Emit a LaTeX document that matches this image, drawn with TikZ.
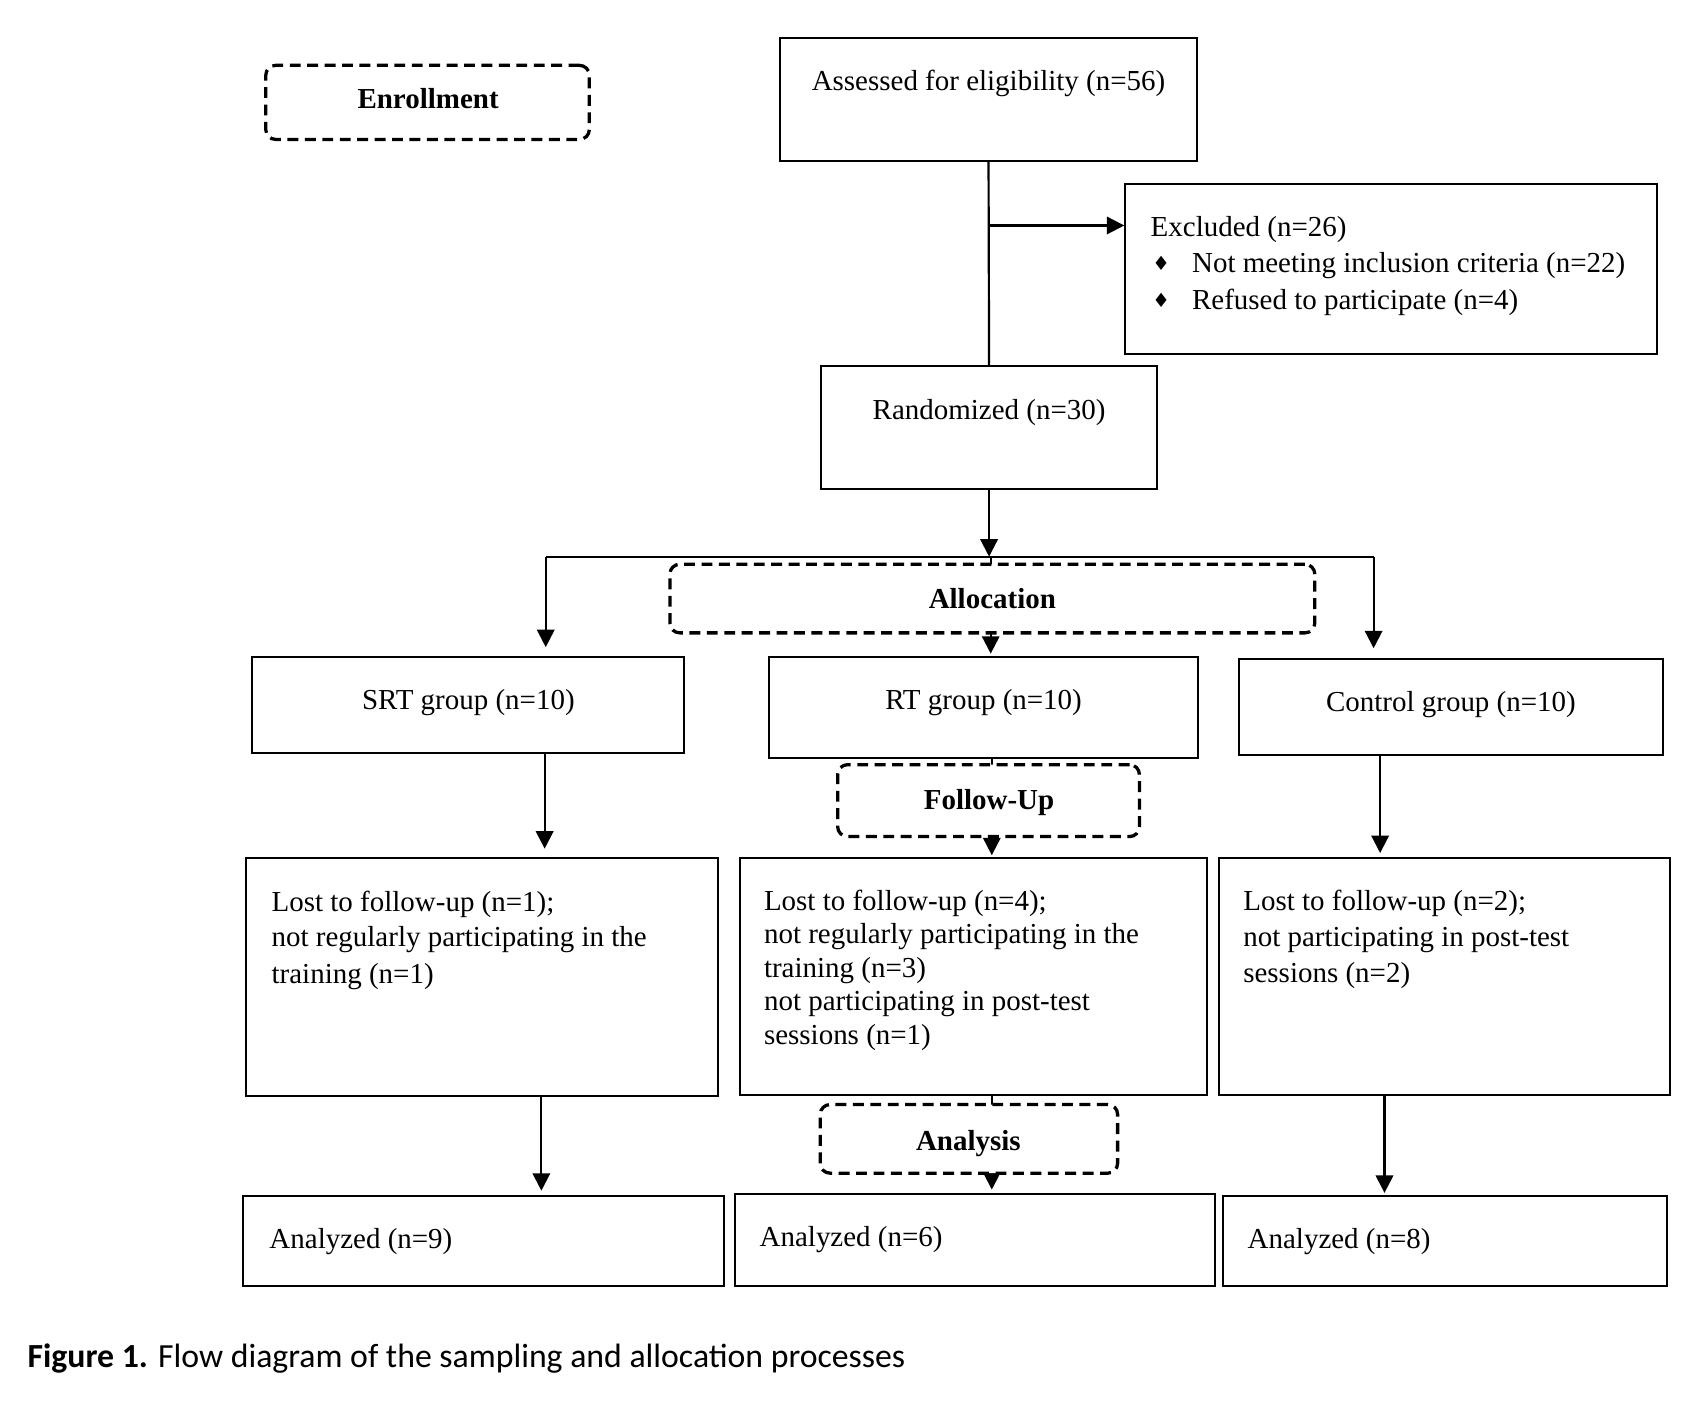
\documentclass[tikz,border=0pt]{standalone}
\usepackage{fontspec}
\setmainfont{Liberation Serif}
\newfontfamily\capfont{Carlito}
\newfontfamily\symfont{DejaVu Sans}
\usetikzlibrary{arrows.meta,fit}
\begin{document}
\begin{tikzpicture}[x=0.5pt,y=-0.5pt,
  box/.style={draw,line width=0.9pt,inner sep=0pt},
  phase/.style={draw,line width=1.5pt,dash pattern=on 5pt off 3pt,rounded corners=4.5pt,fill=white,inner sep=0pt},
  arr/.style={line width=1pt,-{Triangle[length=8pt,width=8pt]}},
  ln/.style={line width=1pt},
  txt/.style={inner sep=0pt,font=\fontsize{13.3}{16}\selectfont},
  lbl/.style={inner sep=0pt,font=\fontsize{13.3}{16}\selectfont\bfseries},
  bul/.style={inner sep=0pt,font=\symfont\fontsize{9}{9}\selectfont},
  captext/.style={inner sep=0pt,font=\capfont\fontsize{15.5}{18}\selectfont}
]
\fill[white] (0,0) rectangle (1568,1294);
\useasboundingbox (0,0) rectangle (1568,1294);

% solid boxes
\node[box,fit={(716,35)(1099,148)}] (assess) {};
\node[box,fit={(1033,169)(1521,325)}] (excl) {};
\node[box,fit={(754,336)(1062,449)}] (rand) {};
\node[box,fit={(231,603)(628,691)}] (srt) {};
\node[box,fit={(706,603)(1100,696)}] (rt) {};
\node[box,fit={(1137,605)(1527,693)}] (ctrl) {};
\node[box,fit={(226,788)(659,1006)}] (srtlost) {};
\node[box,fit={(679,788)(1108,1005)}] (rtlost) {};
\node[box,fit={(1119,788)(1533,1005)}] (ctrllost) {};
\node[box,fit={(223,1098)(665,1181)}] (srtan) {};
\node[box,fit={(675,1096)(1115,1181)}] (rtan) {};
\node[box,fit={(1123,1098)(1530,1181)}] (ctrlan) {};

% connectors
\draw[ln] (assess.south) -- (rand.north);
\coordinate (exj) at (907.5,207);
\draw[arr] (exj) -- (exj -| excl.west);
\coordinate (split) at (909.5,511);
\coordinate (sl) at (501,511);
\coordinate (sr) at (1261,511);
\draw[arr] (rand.south) -- (rand.south |- split);
\draw[ln] (sl) -- (sr);
\draw[arr,shorten >=4pt] (sl) -- (sl |- srt.north);
\draw[arr,shorten >=4.5pt] (sr) -- (sr |- ctrl.north);
\draw[arr,shorten >=1pt] (split) -- (split |- rt.north);

\coordinate (k1) at (500,0);
\coordinate (k2) at (910.5,0);
\coordinate (k3) at (1267,0);
\coordinate (k4) at (497,0);
\coordinate (k6) at (1271,0);
\draw[arr,shorten >=4pt] (srt.south -| k1) -- (srtlost.north -| k1);
\draw[arr,shorten >=1pt] (rt.south -| k2) -- (rtlost.north -| k2);
\draw[arr,shorten >=2pt] (ctrl.south -| k3) -- (ctrllost.north -| k3);
\draw[arr,shorten >=2pt] (srtlost.south -| k4) -- (srtan.north -| k4);
\draw[arr,shorten >=1.5pt] (rtlost.south -| k2) -- (rtan.north -| k2);
\draw[arr,shorten >=1pt] (ctrllost.south -| k6) -- (ctrlan.north -| k6);

% phase boxes
\node[phase,fit={(244,60)(541,128)}] (enroll) {};
\node[phase,fit={(615,518)(1207,581)}] (alloc) {};
\node[phase,fit={(769,702)(1046,768)}] (follow) {};
\node[phase,fit={(753,1014)(1026,1077)}] (analysis) {};

\node[lbl,anchor=base] (enrollT) at (393,100) {Enrollment};
\node[lbl,anchor=base] (allocT) at (911,559) {Allocation};
\node[lbl,anchor=base] (followT) at (908,743) {Follow-Up};
\node[lbl,anchor=base] (analysisT) at (889,1056) {Analysis};

% texts
\node[txt,anchor=base] (assessT) at (907.5,83) {Assessed for eligibility (n=56)};
\node[txt,anchor=base west] (exclT) at (1056,217) {Excluded (n=26)};
\node[bul,anchor=base] (b1) at (1066,248) {♦};
\node[txt,anchor=base west] (e1) at (1094,250) {Not meeting inclusion criteria (n=22)};
\node[bul,anchor=base] (b2) at (1066,282) {♦};
\node[txt,anchor=base west] (e2) at (1094,284) {Refused to participate (n=4)};
\node[txt,anchor=base] (randT) at (908,385) {Randomized (n=30)};

\node[txt,anchor=base] (srtT) at (430,651) {SRT group (n=10)};
\node[txt,anchor=base] (rtT) at (903,651) {RT group (n=10)};
\node[txt,anchor=base] (ctrlT) at (1332,653) {Control group (n=10)};

\node[txt,anchor=base west] (sl1) at (249,837) {Lost to follow-up (n=1);};
\node[txt,anchor=base west] (sl2) at (249,869) {not regularly participating in the};
\node[txt,anchor=base west] (sl3) at (249,903) {training (n=1)};

\node[txt,anchor=base west] (rl1) at (701,836) {Lost to follow-up (n=4);};
\node[txt,anchor=base west] (rl2) at (701,866) {not regularly participating in the};
\node[txt,anchor=base west] (rl3) at (701,897) {training (n=3)};
\node[txt,anchor=base west] (rl4) at (701,928) {not participating in post-test};
\node[txt,anchor=base west] (rl5) at (701,959) {sessions (n=1)};

\node[txt,anchor=base west] (cl1) at (1141,836) {Lost to follow-up (n=2);};
\node[txt,anchor=base west] (cl2) at (1141,869) {not participating in post-test};
\node[txt,anchor=base west] (cl3) at (1141,902) {sessions (n=2)};

\node[txt,anchor=base west] (sa) at (247,1146) {Analyzed (n=9)};
\node[txt,anchor=base west] (ra) at (697,1144) {Analyzed (n=6)};
\node[txt,anchor=base west] (ca) at (1145,1146) {Analyzed (n=8)};

\node[captext,anchor=base west] (caption) at (25,1255) {\textbf{Figure 1.} Flow diagram of the sampling and allocation processes};
\end{tikzpicture}
\end{document}
